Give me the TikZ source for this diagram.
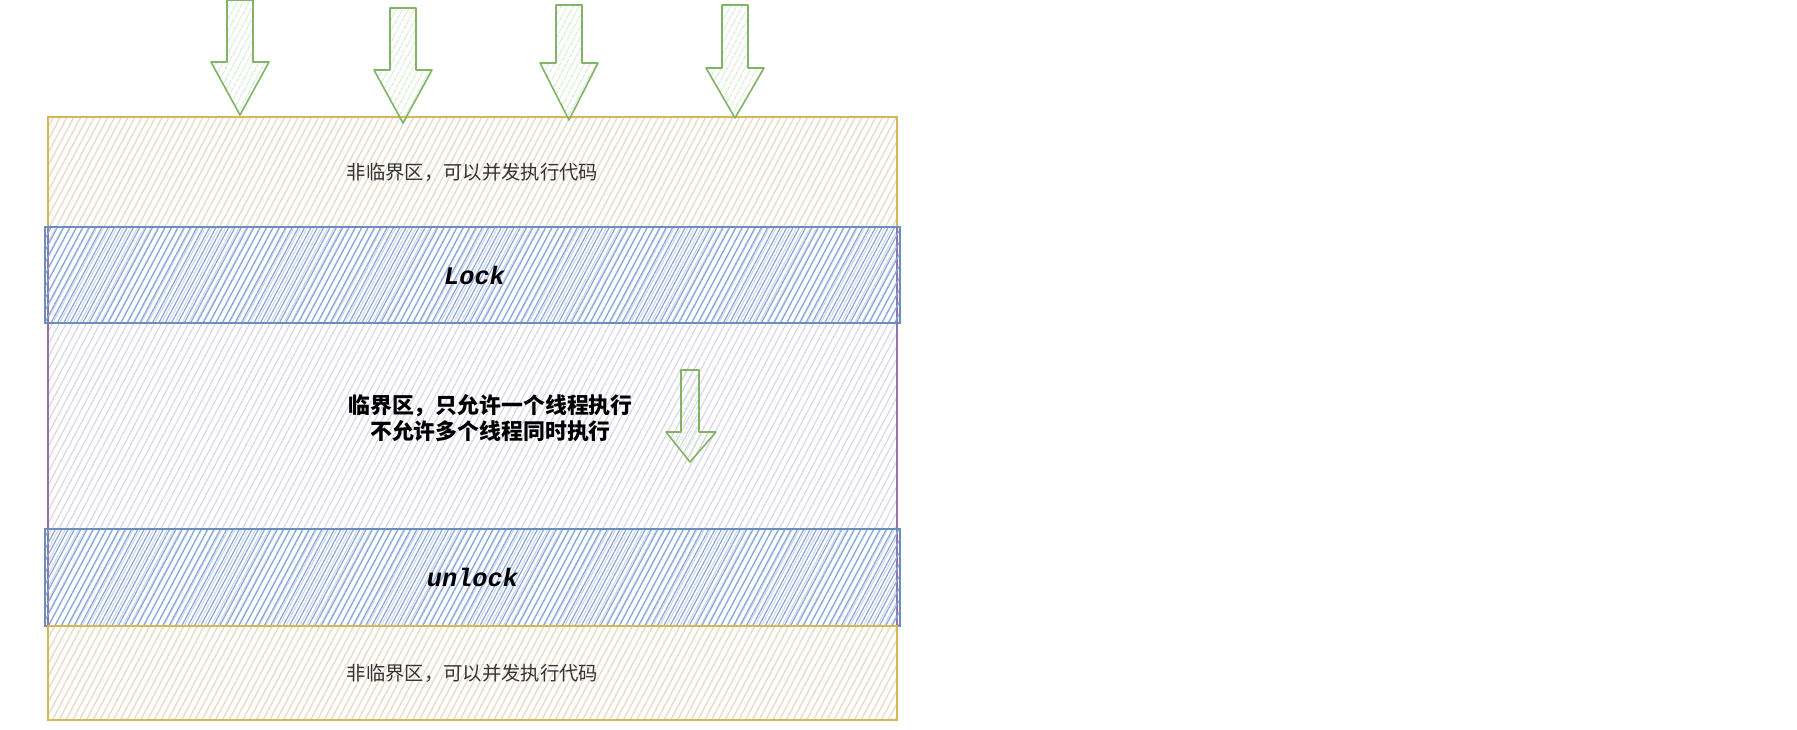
\documentclass[tikz,border=0pt]{standalone}
\usepackage{fontspec}
\setmainfont{Noto Sans CJK SC}
\newfontfamily\codefont{Liberation Mono}
\usetikzlibrary{positioning,patterns.meta}
\definecolor{FreeLine}{RGB}{214,182,86}
\definecolor{FreeHatch}{RGB}{236,224,194}
\definecolor{CritLine}{RGB}{150,115,166}
\definecolor{CritHatch}{RGB}{218,214,230}
\definecolor{LockLine}{RGB}{108,142,191}
\definecolor{LockHatch}{RGB}{130,170,224}
\definecolor{ArrowLine}{RGB}{130,179,102}
\definecolor{ArrowHatch}{RGB}{196,224,190}
\definecolor{TextGray}{RGB}{51,51,51}
\tikzset{
  outerbox/.style={draw=CritLine,line width=0.8pt,inner sep=0pt,outer sep=0pt,
    pattern={Lines[angle=62,distance=4.5pt,line width=0.9pt]},pattern color=CritHatch,
    minimum width=636.75pt,minimum height=452.25pt},
  freeband/.style={draw=FreeLine,line width=1.2pt,inner sep=0pt,outer sep=0pt,
    pattern={Lines[angle=62,distance=4.5pt,line width=0.8pt]},pattern color=FreeHatch,
    minimum width=636.75pt,text=TextGray,font=\fontsize{14.5}{17}\selectfont},
  lockband/.style={draw=LockLine,line width=1.2pt,inner sep=0pt,outer sep=0pt,
    pattern={Lines[angle=62,distance=4.2pt,line width=0.9pt]},pattern color=LockHatch,
    minimum width=641.25pt,font=\codefont\bfseries\itshape\fontsize{19}{22}\selectfont},
  critband/.style={inner sep=0pt,outer sep=0pt,minimum width=636.75pt},
  crittext/.style={align=center,inner sep=0pt,font=\bfseries\fontsize{16.4}{19}\selectfont},
  greenarrow/.style={draw=ArrowLine,line width=1.2pt,line join=round,
    pattern={Lines[angle=62,distance=4pt,line width=0.7pt]},pattern color=ArrowHatch}
}

\begin{document}
\begin{tikzpicture}[x=0.75pt,y=-0.75pt]
  \useasboundingbox (0,0) rectangle (1797,729);
  \node[outerbox,anchor=north west] (outer) at (48,117) {};
  \node[freeband,minimum height=82.5pt,anchor=north west] (topfree) at (48,117) {非临界区，可以并发执行代码};
  \node[lockband,minimum height=72pt,below=0pt of topfree] (lock) {\hspace*{3pt}Lock};
  \node[critband,minimum height=154.5pt,below=0pt of lock] (crit) {};
  \node[crittext] (crittext) at ([xshift=13.5pt,yshift=6pt]crit.center) {临界区，只允许一个线程执行\\不允许多个线程同时执行};
  \node[lockband,minimum height=72.75pt,below=0pt of crit] (unlock) {unlock};
  \node[freeband,minimum height=70.5pt,below=0pt of unlock] (botfree) {非临界区，可以并发执行代码};
  % threads coming in
  \foreach \cx/\ytop/\yhead/\ytip in {240/0/62/115, 403/8/70/123, 569/5/63/120, 735/5/68/118}
    \draw[greenarrow] (\cx-13,\ytop) -- (\cx+13,\ytop) -- (\cx+13,\yhead) -- (\cx+29,\yhead)
      -- (\cx,\ytip) -- (\cx-29,\yhead) -- (\cx-13,\yhead) -- cycle;
  % one thread inside
  \draw[greenarrow] (681,370) -- (699,370) -- (699,432) -- (716,432) -- (690,462)
    -- (666,432) -- (681,432) -- cycle;
\end{tikzpicture}
\end{document}
